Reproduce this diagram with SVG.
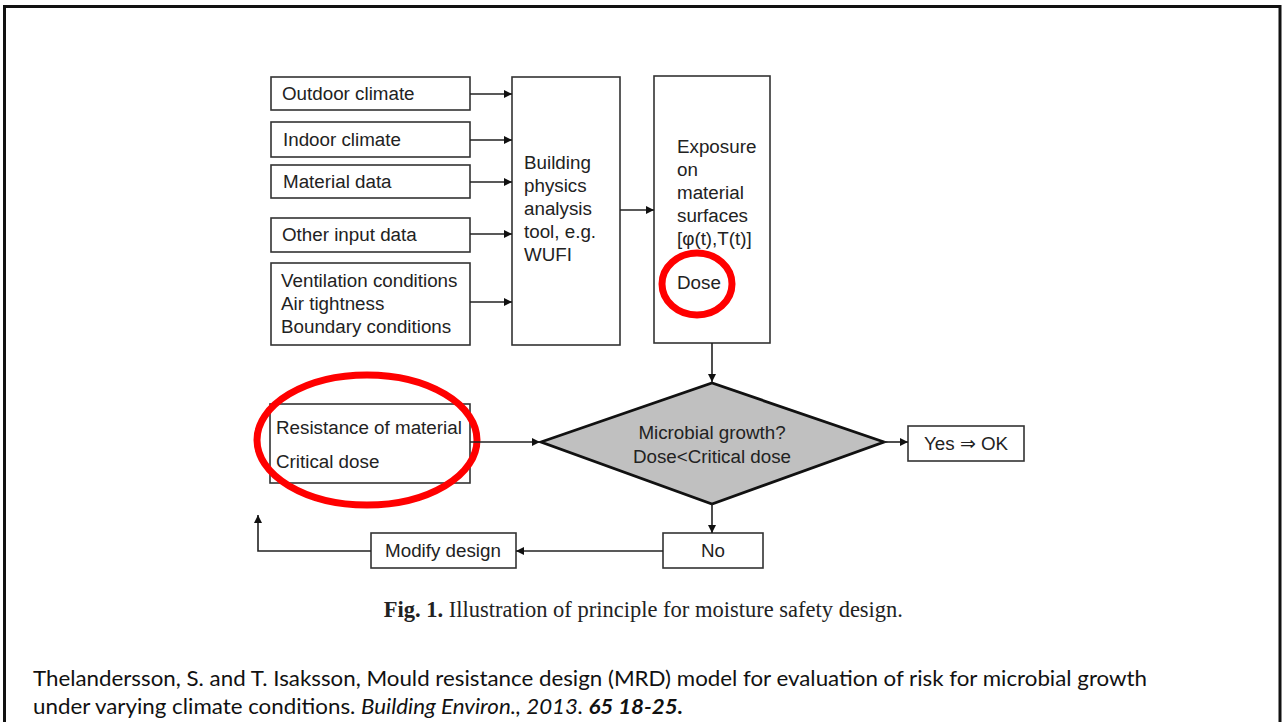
<svg xmlns="http://www.w3.org/2000/svg" width="1283" height="722" viewBox="0 0 1283 722">
<defs>
<marker id="ah" viewBox="0 0 10 10" refX="10" refY="5" markerWidth="9" markerHeight="8" markerUnits="userSpaceOnUse" orient="auto">
<path d="M0,0 L10,5 L0,10 z" fill="#111"/>
</marker>
<style>
.box{fill:#fff;stroke:#333;stroke-width:1.6}
.t{font-family:"Liberation Sans",Arial,sans-serif;font-size:18.8px;fill:#222}
.tc{font-family:"Liberation Sans",Arial,sans-serif;font-size:18.8px;fill:#222;text-anchor:middle}
.ln{fill:none;stroke:#222;stroke-width:1.6}
.red{fill:none;stroke:#f00;stroke-width:7}
.cap{font-family:"Liberation Serif","Times New Roman",serif;font-size:22.5px;fill:#222;text-anchor:end}
.ref{font-family:Lato,"Liberation Sans",sans-serif;font-size:21px;fill:#111}
</style>
</defs>
<rect x="0" y="0" width="1283" height="722" fill="#fff"/>
<path d="M4.5,722 L4.5,6.5 L1280,6.5 L1280,722" fill="none" stroke="#111" stroke-width="3"/>

<g id="outdoor"><rect class="box" x="271" y="77" width="199" height="33"/><text class="t" x="282" y="100">Outdoor climate</text></g>
<g id="indoor"><rect class="box" x="271" y="122" width="199" height="35"/><text class="t" x="283" y="146">Indoor climate</text></g>
<g id="material"><rect class="box" x="271" y="165" width="199" height="33"/><text class="t" x="283" y="188">Material data</text></g>
<g id="other"><rect class="box" x="271" y="218" width="199" height="34"/><text class="t" x="282" y="241">Other input data</text></g>
<g id="ventilation"><rect class="box" x="271" y="263" width="199" height="82"/>
<text class="t" x="281" y="287">Ventilation conditions</text>
<text class="t" x="281" y="310">Air tightness</text>
<text class="t" x="281" y="333">Boundary conditions</text></g>
<g id="building"><rect class="box" x="512" y="77" width="108" height="268"/>
<text class="t" x="524" y="169">Building</text>
<text class="t" x="524" y="192">physics</text>
<text class="t" x="524" y="215">analysis</text>
<text class="t" x="524" y="238">tool, e.g.</text>
<text class="t" x="524" y="261">WUFI</text></g>
<g id="exposure"><rect class="box" x="654" y="76" width="116" height="267"/>
<text class="t" x="677" y="153">Exposure</text>
<text class="t" x="677" y="176">on</text>
<text class="t" x="677" y="199">material</text>
<text class="t" x="677" y="222">surfaces</text>
<text class="t" x="677" y="245">[φ(t),T(t)]</text>
<text class="t" x="677" y="289">Dose</text>
<ellipse class="red" cx="697" cy="284" rx="35" ry="31"/></g>
<g id="resistance"><rect class="box" x="270" y="404" width="200" height="79"/>
<text class="t" x="276" y="434">Resistance of material</text>
<text class="t" x="276" y="468">Critical dose</text>
<ellipse class="red" cx="367" cy="440" rx="110" ry="65"/></g>
<g id="decision"><polygon points="541,442 712,383 884,442 712,504" fill="#c0c0c0" stroke="#111" stroke-width="2.8"/>
<text class="tc" x="712" y="439">Microbial growth?</text>
<text class="tc" x="712" y="463">Dose&lt;Critical dose</text></g>
<g id="yes"><rect class="box" x="908" y="426" width="116" height="35"/><text class="tc" x="966" y="450">Yes ⇒ OK</text></g>
<g id="no"><rect class="box" x="663" y="533" width="100" height="35"/><text class="tc" x="713" y="557">No</text></g>
<g id="modify"><rect class="box" x="371" y="533" width="145" height="35"/><text class="tc" x="443" y="557">Modify design</text></g>

<g id="connectors">
<line class="ln" x1="470" y1="94" x2="512" y2="94" marker-end="url(#ah)"/>
<line class="ln" x1="470" y1="140" x2="512" y2="140" marker-end="url(#ah)"/>
<line class="ln" x1="470" y1="182" x2="512" y2="182" marker-end="url(#ah)"/>
<line class="ln" x1="470" y1="234" x2="512" y2="234" marker-end="url(#ah)"/>
<line class="ln" x1="470" y1="302" x2="512" y2="302" marker-end="url(#ah)"/>
<line class="ln" x1="620" y1="210" x2="654" y2="210" marker-end="url(#ah)"/>
<line class="ln" x1="712" y1="343" x2="712" y2="382" marker-end="url(#ah)"/>
<line class="ln" x1="470" y1="442" x2="540" y2="442" marker-end="url(#ah)"/>
<line class="ln" x1="884" y1="442" x2="908" y2="442" marker-end="url(#ah)"/>
<line class="ln" x1="712" y1="504" x2="712" y2="533" marker-end="url(#ah)"/>
<line class="ln" x1="663" y1="551" x2="516" y2="551" marker-end="url(#ah)"/>
<path class="ln" d="M371,551 L258,551 L258,515" marker-end="url(#ah)"/>
</g>

<text class="cap" x="903" y="617"><tspan font-weight="bold">Fig. 1.</tspan> Illustration of principle for moisture safety design.</text>

<text class="ref" x="33" y="686" textLength="1114" lengthAdjust="spacingAndGlyphs">Thelandersson, S. and T. Isaksson, Mould resistance design (MRD) model for evaluation of risk for microbial growth</text>
<text class="ref" x="33" y="714" textLength="650" lengthAdjust="spacingAndGlyphs">under varying climate conditions. <tspan font-style="italic">Building Environ., 2013. </tspan><tspan font-style="italic" font-weight="bold">65 18-25.</tspan></text>
</svg>
